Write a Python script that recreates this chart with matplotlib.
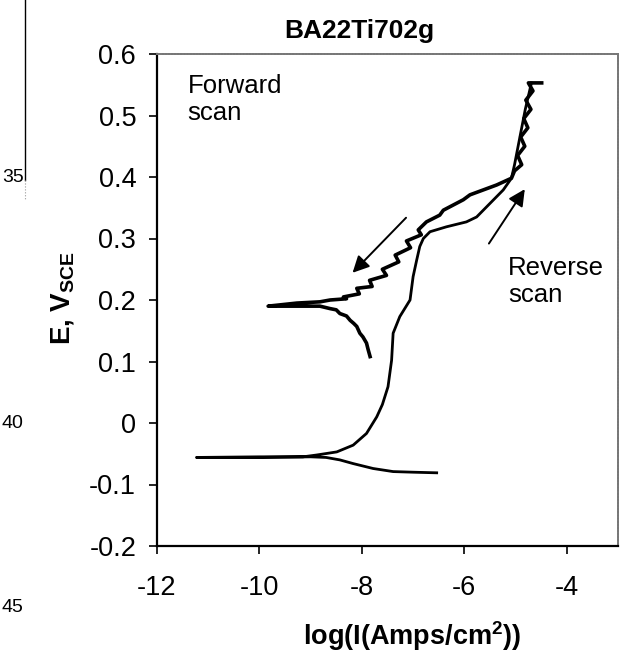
import matplotlib
matplotlib.use("Agg")
import matplotlib.pyplot as plt

plt.rcParams['font.family'] = ['Liberation Sans', 'DejaVu Sans']
plt.rcParams['mathtext.fontset'] = 'custom'
plt.rcParams['mathtext.rm'] = 'Liberation Sans'
plt.rcParams['mathtext.bf'] = 'Liberation Sans:bold'

# forward scan: cathodic tail, corrosion spike, then anodic branch up to the turn
fwd_logi = [-6.54, -7.00, -7.39, -7.78, -8.17, -8.43, -8.70, -9.00, -10.00, -11.23,
            -10.00, -9.15, -8.88, -8.49, -8.17, -7.91, -7.71, -7.60, -7.49, -7.42,
            -7.39, -7.26, -7.06, -7.00, -6.93, -6.87, -6.80, -6.67, -6.35, -5.96,
            -5.76, -5.50, -5.24, -5.08, -5.02, -4.95, -4.88, -4.81, -4.74, -4.69]
fwd_e = [-0.081, -0.080, -0.079, -0.074, -0.066, -0.060, -0.056, -0.055, -0.056, -0.056,
         -0.055, -0.055, -0.052, -0.047, -0.036, -0.017, 0.010, 0.030, 0.059, 0.102,
         0.146, 0.173, 0.200, 0.238, 0.265, 0.287, 0.300, 0.311, 0.319, 0.327,
         0.335, 0.357, 0.379, 0.398, 0.420, 0.450, 0.480, 0.510, 0.535, 0.553]

# reverse scan: from the turning point back down with the stepped hysteresis
rev_logi = [-4.49, -4.75, -4.66, -4.80, -4.70, -4.84, -4.76, -4.90, -4.82, -4.96,
            -4.88, -5.02, -5.08, -5.37, -5.89, -6.02, -6.41, -6.48, -6.74, -6.90,
            -6.84, -7.13, -7.05, -7.35, -7.28, -7.60, -7.52, -7.85, -7.80, -8.10,
            -8.05, -8.36, -8.30, -8.62, -8.82, -9.27, -9.83, -8.82, -8.62, -8.50,
            -8.43, -8.30, -8.23, -8.16, -8.10, -8.04, -7.98, -7.91, -7.88, -7.84]
rev_e = [0.553, 0.553, 0.540, 0.525, 0.510, 0.495, 0.480, 0.465, 0.450, 0.435,
         0.420, 0.410, 0.398, 0.387, 0.371, 0.363, 0.346, 0.338, 0.327, 0.314,
         0.306, 0.296, 0.285, 0.273, 0.262, 0.250, 0.240, 0.232, 0.222, 0.219,
         0.210, 0.205, 0.202, 0.200, 0.197, 0.195, 0.190, 0.190, 0.186, 0.184,
         0.178, 0.174, 0.167, 0.162, 0.157, 0.146, 0.140, 0.130, 0.120, 0.108]

xticks = [-12, -10, -8, -6, -4]
yticks = [-0.2, -0.1, 0, 0.1, 0.2, 0.3, 0.4, 0.5, 0.6]
ytick_labels = ['-0.2', '-0.1', '0', '0.1', '0.2', '0.3', '0.4', '0.5', '0.6']

fig = plt.figure(figsize=(6.25, 6.61), dpi=100)
ax = fig.add_axes([157 / 625, 1 - 546 / 661, (618 - 157) / 625, (546 - 54) / 661])

ax.plot(fwd_logi, fwd_e, color='black', lw=2.0, solid_joinstyle='round')
ax.plot(rev_logi, rev_e, color='black', lw=2.6, solid_joinstyle='round')

ax.set_xlim(-12, -3)
ax.set_ylim(-0.2, 0.6)
ax.set_xticks(xticks)
ax.set_xticklabels([str(t) for t in xticks])
ax.set_yticks(yticks)
ax.set_yticklabels(ytick_labels)
ax.tick_params(axis='both', direction='out', length=6, width=1.2, labelsize=19.5)
ax.tick_params(axis='x', pad=15)
ax.tick_params(axis='y', pad=9)

for side in ['left', 'bottom']:
    ax.spines[side].set_linewidth(1.6)
    ax.spines[side].set_color('black')
for side in ['top', 'right']:
    ax.spines[side].set_linewidth(1.4)
    ax.spines[side].set_color('#777777')
    ax.spines[side].set_linestyle((0, (1, 0.6)))

# scan direction arrows
arrow_style = dict(arrowstyle='-|>,head_length=1.0,head_width=0.5', color='black', lw=1.4)
ax.annotate('', xy=(-8.22, 0.241), xytext=(-7.10, 0.337), arrowprops=arrow_style)
ax.annotate('', xy=(-4.79, 0.384), xytext=(-5.55, 0.288), arrowprops=arrow_style)

ax.text(-11.4, 0.567, 'Forward\nscan', fontsize=18.5, va='top', ha='left', linespacing=1.15)
ax.text(-5.15, 0.272, 'Reverse\nscan', fontsize=18.5, va='top', ha='left', linespacing=1.15)

fig.text(359 / 625, 1 - 31 / 661, 'BA22Ti702g', fontsize=19, fontweight='bold',
         ha='center', va='center')
fig.text(412 / 625, 1 - 636 / 661, r'log(I(Amps/cm$^\mathbf{2}$))', fontsize=19.5,
         fontweight='bold', ha='center', va='center')
fig.text(63 / 625, 1 - 298 / 661, r'E, V$_\mathbf{SCE}$', fontsize=20, fontweight='bold',
         rotation=90, ha='center', va='center')

# edge of the neighbouring panel
fig.add_artist(plt.Line2D([25 / 625, 25 / 625], [1.0, 1 - 180 / 661],
                          transform=fig.transFigure, color='black', lw=1.0))
fig.add_artist(plt.Line2D([25 / 625, 25 / 625], [1 - 180 / 661, 1 - 200 / 661],
                          transform=fig.transFigure, color='#999999', lw=0.8, ls=':'))
for lab, ypx in [('35', 178), ('40', 424), ('45', 608)]:
    fig.text(2 / 625, 1 - ypx / 661, lab, fontsize=14, ha='left', va='center')

fig.savefig('out.png', dpi=100)
